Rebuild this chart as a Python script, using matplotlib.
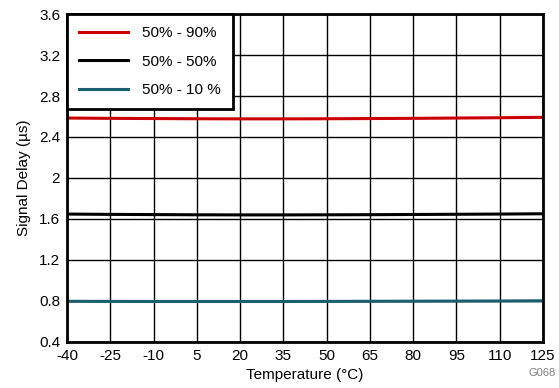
import matplotlib
matplotlib.use("Agg")
import matplotlib.pyplot as plt

plt.rcParams["font.family"] = ["Liberation Sans", "DejaVu Sans"]
plt.rcParams["axes.unicode_minus"] = False

temperature = [-40, -25, -10, 5, 20, 35, 50, 65, 80, 95, 110, 125]
delay_90 = [2.585, 2.582, 2.580, 2.578, 2.577, 2.577, 2.578, 2.580, 2.582, 2.585, 2.588, 2.592]
delay_50 = [1.648, 1.645, 1.643, 1.641, 1.640, 1.640, 1.641, 1.642, 1.644, 1.646, 1.648, 1.651]
delay_10 = [0.797, 0.796, 0.795, 0.795, 0.795, 0.795, 0.796, 0.797, 0.798, 0.799, 0.800, 0.802]

x_ticks = list(range(-40, 126, 15))
y_ticks = [0.4, 0.8, 1.2, 1.6, 2, 2.4, 2.8, 3.2, 3.6]
y_tick_labels = ["0.4", "0.8", "1.2", "1.6", "2", "2.4", "2.8", "3.2", "3.6"]

fig = plt.figure(figsize=(5.59, 3.88), dpi=100)
ax = fig.add_axes([0.1199, 0.1186, 0.8515, 0.8453])

ax.plot(temperature, delay_90, color="#CC0000", lw=2.2, label="50% - 90%")
ax.plot(temperature, delay_50, color="#000000", lw=2.2, label="50% - 50%")
ax.plot(temperature, delay_10, color="#1B5E70", lw=2.2, label="50% - 10 %")

ax.set_xlim(-40, 125)
ax.set_ylim(0.4, 3.6)
ax.set_xticks(x_ticks)
ax.set_yticks(y_ticks)
ax.set_yticklabels(y_tick_labels)
ax.grid(True, color="black", lw=1)
ax.set_axisbelow(True)
ax.tick_params(length=0, labelsize=11, pad=5)
for spine in ax.spines.values():
    spine.set_linewidth(2)

ax.set_xlabel("Temperature (°C)", fontsize=11, labelpad=4)
ax.set_ylabel("Signal Delay (µs)", fontsize=11, labelpad=6)

leg = ax.legend(loc="upper left", bbox_to_anchor=(0, 1), fontsize=11,
                fancybox=False, framealpha=1, borderaxespad=0,
                handlelength=3.2, handletextpad=0.9, labelspacing=0.95,
                borderpad=0.8)
leg.get_frame().set_edgecolor("black")
leg.get_frame().set_linewidth(2)

fig.text(0.995, 0.025, "G068", fontsize=8, color="#808080", ha="right", va="bottom")

fig.savefig("out.png", dpi=100)
